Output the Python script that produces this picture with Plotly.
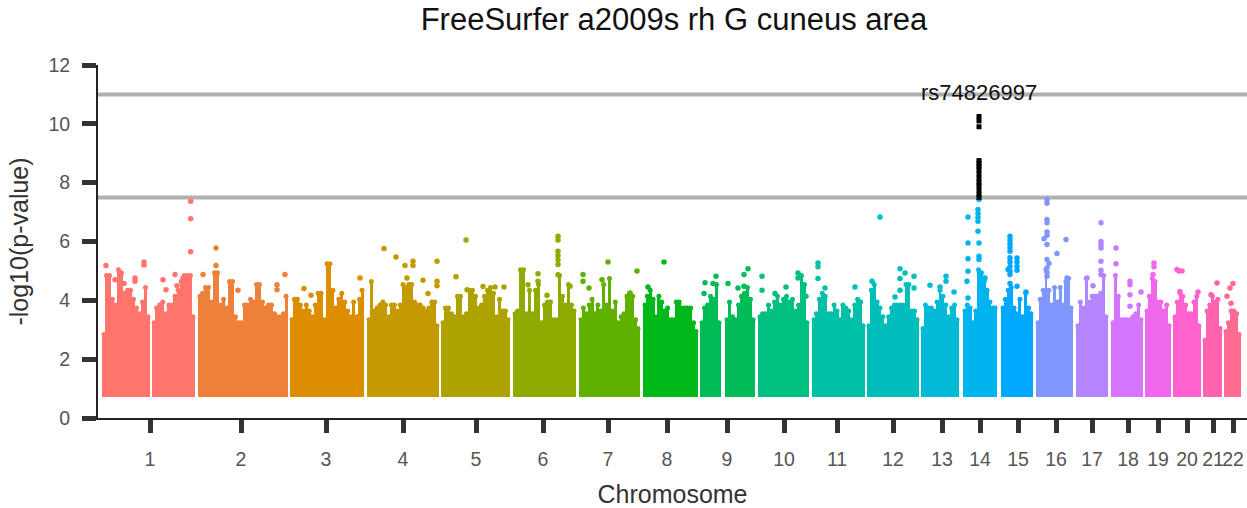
import plotly.graph_objects as go

# Chromosome labels, tick positions and colours
CHROMS = [str(i) for i in range(1, 23)]
TICK_POS = [150, 241, 326, 403, 476, 543, 608, 667, 727, 784, 837, 893, 942, 980, 1018, 1056, 1092, 1128, 1158, 1187, 1213, 1233]
COLORS = ["#FF756E", "#EE813A", "#DC8D00", "#C49A00", "#AEA200", "#8FAA00", "#60B000", "#00B81A", "#00BC56", "#00C081", "#00C0A8",
          "#00BEBC", "#00BAD8", "#00B4EF", "#00A9FF", "#7F96FF", "#B385FF", "#D575FE", "#EF67EB", "#FF61CF", "#FF62AF", "#FF6A91"]

# Each segment: chromosome index, start, end (cumulative position), top of the dense SNP mass per bin
SEG_CHROM = [0, 0, 1, 2, 3, 4, 5, 6, 7, 8, 8, 9, 10, 11, 12, 13, 14, 15, 16, 17, 18, 19, 20, 21]
SEG_START = [102, 152, 198, 290, 367, 441, 513, 579, 643, 700, 725, 758, 812, 867, 921, 963, 1001, 1036, 1076, 1111, 1145, 1173, 1203, 1224]
SEG_END = [150, 195, 288, 364, 439, 510, 576, 640, 698, 721, 755, 809, 865, 919, 959, 997, 1033, 1073, 1108, 1143, 1171, 1201, 1222, 1241]

C1A = [2.9, 4.9, 4.9, 4.1, 3.9, 5.1, 5.0, 4.3, 4.4, 4.4, 4.1, 3.8, 3.6, 4.0, 4.5, 3.5]
C1B = [3.3, 3.8, 3.9, 4.0, 3.6, 3.9, 3.9, 4.2, 4.4, 4.7, 4.9, 4.9, 4.9, 3.5]
C2 = [4.2, 4.3, 4.5, 4.5, 4.0, 5.0, 5.0, 3.9, 4.1, 3.8, 4.7, 4.7, 3.5, 3.3, 3.3, 3.9, 3.9, 4.1, 4.0, 4.6, 4.6, 4.0, 3.8, 3.9, 3.9, 3.6, 3.5, 3.5, 3.6, 4.2]
C3 = [3.4, 4.1, 4.1, 3.9, 3.7, 3.9, 3.7, 3.5, 3.9, 4.3, 4.3, 3.4, 5.3, 5.3, 4.4, 3.8, 4.1, 4.3, 4.0, 3.7, 3.5, 4.0, 3.5, 4.1, 4.4]
C4 = [3.4, 4.7, 3.7, 3.8, 3.9, 4.0, 3.9, 3.5, 3.9, 3.9, 3.7, 3.9, 4.6, 4.5, 4.6, 4.6, 4.0, 3.9, 3.9, 3.8, 3.7, 3.8, 4.0, 4.0, 3.2]
C5 = [3.3, 3.8, 3.8, 3.6, 3.5, 4.2, 4.2, 3.5, 3.6, 4.4, 4.4, 4.2, 3.8, 3.9, 4.2, 4.4, 4.5, 4.3, 3.5, 4.1, 3.7, 3.7, 3.4]
C6 = [3.6, 3.7, 5.1, 5.1, 3.6, 4.4, 3.6, 4.4, 4.6, 3.3, 3.9, 4.0, 4.0, 3.4, 3.4, 4.9, 4.2, 3.9, 4.6, 3.9, 3.7]
C7 = [3.4, 3.8, 3.6, 3.9, 4.1, 3.6, 3.9, 3.7, 4.6, 3.9, 4.8, 3.7, 4.0, 3.3, 3.5, 3.6, 4.2, 4.3, 4.2, 3.4, 3.1]
C8 = [3.9, 4.2, 4.4, 4.1, 3.5, 4.2, 4.0, 3.7, 3.8, 3.4, 3.4, 4.0, 4.0, 3.8, 3.8, 3.8, 3.8, 3.3, 3.0]
C9A = [3.3, 3.8, 3.9, 4.2, 4.1, 4.6, 3.3]
C9B = [3.4, 4.0, 3.5, 3.4, 3.9, 4.2, 4.3, 4.5, 4.1, 3.4]
C10 = [3.5, 3.6, 3.6, 3.9, 3.7, 4.0, 4.2, 3.9, 4.1, 4.2, 4.0, 4.1, 3.7, 3.9, 4.9, 4.6, 3.3]
C11 = [3.4, 3.6, 4.1, 4.3, 4.2, 3.6, 3.6, 3.9, 3.7, 3.4, 3.9, 3.8, 3.7, 3.4, 3.9, 4.1, 4.0, 3.2]
C12 = [3.2, 4.4, 4.6, 4.0, 3.8, 3.5, 3.2, 3.5, 3.8, 3.9, 3.9, 3.9, 3.9, 4.6, 4.6, 3.7, 3.7, 3.4]
C13 = [3.1, 3.9, 3.8, 3.8, 3.7, 4.0, 4.4, 4.2, 3.9, 3.5, 3.8, 3.9, 3.4]
C14 = [3.7, 3.9, 3.8, 3.3, 3.7, 5.1, 5.0, 4.7, 4.4, 4.0, 3.8, 3.8]
C15 = [3.8, 4.1, 4.4, 4.5, 3.8, 3.6, 4.1, 3.5, 4.3, 3.8, 3.6]
C16 = [3.3, 4.1, 4.4, 5.1, 4.4, 3.9, 4.5, 4.0, 4.5, 3.9, 4.7, 4.8, 3.8]
C17 = [3.2, 4.0, 3.8, 4.8, 4.0, 4.2, 4.2, 4.2, 4.3, 4.9, 3.5]
C18 = [3.3, 4.9, 4.2, 3.4, 3.4, 3.4, 3.4, 3.5, 3.6, 3.9, 3.4]
C19 = [3.7, 4.2, 4.8, 4.7, 4.0, 4.0, 3.7, 3.9, 3.2]
C20 = [3.5, 4.0, 4.3, 4.2, 3.9, 3.6, 3.6, 4.0, 4.2, 3.2]
C21 = [2.7, 3.7, 3.9, 4.2, 4.0, 4.1, 3.1]
C22 = [3.0, 3.3, 3.7, 3.7, 3.6, 2.9]
SEG_TOPS = [C1A, C1B, C2, C3, C4, C5, C6, C7, C8, C9A, C9B, C10, C11, C12, C13, C14, C15, C16, C17, C18, C19, C20, C21, C22]
FLOOR = 0.7

# Individual SNPs above the dense mass: (position, -log10 p)
HITS = [
    [(190.7, 7.37), (190.7, 6.77), (190.7, 5.65), (106, 5.18), (115, 4.7), (124, 4.57), (135, 4.76), (135, 4.65), (144, 5.2), (144, 5.3), (163, 4.7), (166, 4.36), (175, 4.88), (177, 4.5), (183, 4.76)],
    [(216, 5.78), (216, 5.18), (203, 4.88), (238, 4.34), (277, 4.53), (277, 4.36), (285, 4.88)],
    [(304, 4.4), (311, 4.17), (360, 4.76)],
    [(384, 5.76), (396, 5.47), (405, 5.18), (413, 5.33), (413, 5.18), (407, 4.76), (423, 4.68), (428, 4.23), (437, 5.33), (437, 4.65), (437, 4.5)],
    [(456, 4.8), (466, 6.05), (467, 4.36), (495, 4.45), (504, 4.45), (483, 4.47)],
    [(558, 6.18), (558, 6.05), (558, 5.67), (558, 5.52), (558, 5.38), (558, 5.22), (558, 4.87), (538, 4.9), (538, 4.65), (528, 4.53), (547, 4.17), (570, 4.48)],
    [(608, 5.3), (583, 4.88), (583, 4.65), (589, 4.42), (637, 5.0), (602, 4.7), (630, 4.25)],
    [(664, 5.3), (648, 4.45)],
    [(716, 4.82), (705, 4.6), (713, 4.57), (728, 4.57), (748, 5.07), (744, 4.88), (744, 4.48), (738, 4.42), (704, 4.23)],
    [(762, 4.82), (762, 4.34), (798, 4.93), (798, 4.76), (786, 4.45), (775, 4.23), (806, 4.14)],
    [(818, 5.27), (818, 5.14), (818, 4.74), (825, 4.42), (855, 4.45)],
    [(880, 6.83), (872, 4.65), (900, 5.07), (905, 4.93), (900, 4.74), (914, 4.82), (914, 4.42), (900, 4.34), (895, 4.11)],
    [(930, 4.51), (946, 4.82), (946, 4.65), (954, 4.28), (940, 4.45)],
    [(968, 6.83), (978, 7.09), (978, 6.95), (978, 6.82), (978, 6.69), (978, 6.35), (968, 5.95), (979, 5.95), (968, 5.41), (979, 5.5), (979, 5.39), (968, 4.99), (967, 4.65), (979, 7.43), (985, 4.76), (968, 4.08)],
    [(1010, 6.18), (1010, 6.05), (1010, 5.92), (1010, 5.8), (1010, 5.67), (1010, 5.45), (1010, 5.3), (1010, 5.15), (1010, 5.0), (1010, 4.88), (1008, 5.05), (1017, 5.44), (1017, 5.3), (1017, 5.15), (1017, 5.02), (1010, 4.57), (1026, 4.28), (1017, 4.48)],
    [(1047, 7.43), (1047, 7.3), (1047, 6.75), (1047, 6.64), (1047, 6.32), (1044, 6.09), (1047, 6.2), (1047, 5.9), (1066, 6.07), (1057, 5.59), (1047, 5.39), (1049, 5.25), (1047, 5.1), (1047, 4.95), (1047, 4.82), (1067, 4.76)],
    [(1101, 6.64), (1101, 6.0), (1101, 5.9), (1101, 5.78), (1101, 5.33), (1101, 5.02), (1101, 4.88), (1087, 4.76), (1093, 4.5)],
    [(1116, 5.78), (1116, 5.24), (1130, 4.65), (1130, 4.53), (1130, 4.19), (1130, 3.8), (1141, 4.28)],
    [(1154, 5.27), (1154, 5.14), (1153, 4.88)],
    [(1179, 5.0), (1177, 5.05), (1182, 5.0), (1180, 4.3), (1198, 4.28)],
    [(1217, 4.59), (1211, 4.19)],
    [(1233, 4.57), (1230, 4.42), (1227, 4.14), (1231, 3.9)],
]

# Lead locus on chromosome 14, drawn in black
LEAD_POS = [979, 979, 979, 979, 979, 979, 979, 979, 979, 979, 979, 979, 979, 979]
LEAD_VAL = [10.25, 10.1, 9.9, 8.75, 8.65, 8.55, 8.45, 8.3, 8.15, 8.0, 7.9, 7.75, 7.6, 7.5]
LEAD_LABEL = "rs74826997"
THRESHOLDS = [11, 7.5]

fig = go.Figure()
for chrom, start, end, tops in zip(SEG_CHROM, SEG_START, SEG_END, SEG_TOPS):
    step = (end - start) / len(tops)
    centers = [start + (i + 0.5) * step for i in range(len(tops))]
    fig.add_trace(go.Bar(x=centers, y=[t - FLOOR for t in tops], base=FLOOR, width=step + 0.05,
                         marker=dict(color=COLORS[chrom], line=dict(width=0)), showlegend=False, hoverinfo="skip"))
    # round dots along the top of the mass, as the overplotted SNPs look in the picture
    fig.add_trace(go.Scatter(x=[min(max(c, start + 2), end - 2) for c in centers], y=[t - 0.06 for t in tops], mode="markers",
                             marker=dict(color=COLORS[chrom], size=5, line=dict(width=0)), showlegend=False, hoverinfo="skip"))
for chrom, hits in enumerate(HITS):
    fig.add_trace(go.Scatter(x=[h[0] for h in hits], y=[h[1] for h in hits], mode="markers",
                             marker=dict(color=COLORS[chrom], size=5.5, symbol="circle", line=dict(width=0)),
                             showlegend=False))
fig.add_trace(go.Scatter(x=LEAD_POS, y=LEAD_VAL, mode="markers",
                         marker=dict(color="black", size=5, symbol="square", line=dict(width=0)), showlegend=False))

for t in THRESHOLDS:
    fig.add_hline(y=t, line=dict(color="#B0B0B0", width=4), layer="below")

FAMILY = "Liberation Sans, Arial, sans-serif"
fig.add_annotation(x=978.5, y=11.07, text=LEAD_LABEL, showarrow=False, font=dict(size=22, color="#111111", family=FAMILY),
                   xanchor="center", yanchor="middle")

AXFONT = dict(family=FAMILY, size=19.5, color="#555555")
TITLEFONT = dict(family=FAMILY, size=25, color="#333333")
fig.update_layout(
    width=1247, height=508, margin=dict(l=98, r=0, t=65, b=90, autoexpand=False),
    paper_bgcolor="white", plot_bgcolor="white", barmode="overlay", bargap=0,
    font=dict(family=FAMILY),
    title=dict(text="FreeSurfer a2009s rh G cuneus area", x=0.5405, xanchor="center", y=0.962, yanchor="middle",
               font=dict(size=31, color="#111111", family=FAMILY)),
)
fig.update_xaxes(range=[98, 1247], tickmode="array", tickvals=TICK_POS, ticktext=CHROMS, showgrid=False, zeroline=False,
                 showline=True, linecolor="#222222", linewidth=2, ticks="outside", ticklen=13, tickwidth=5, tickcolor="#333333",
                 tickfont=AXFONT, tickangle=0, ticklabelstandoff=10, automargin=False, ticklabeloverflow="allow",
                 title=dict(text="Chromosome", font=TITLEFONT, standoff=17))
fig.update_yaxes(range=[0, 12], tickmode="array", tickvals=[0, 2, 4, 6, 8, 10, 12], showgrid=False, zeroline=False,
                 showline=True, linecolor="#222222", linewidth=2, ticks="outside", ticklen=14, tickwidth=5, tickcolor="#333333",
                 tickfont=AXFONT, ticklabelstandoff=8, automargin=False,
                 title=dict(text="-log10(p-value)", font=TITLEFONT, standoff=13))

fig.write_html("out.html", post_script="document.body.style.margin='0';document.body.style.overflow='hidden';",
               config=dict(displayModeBar=False))
